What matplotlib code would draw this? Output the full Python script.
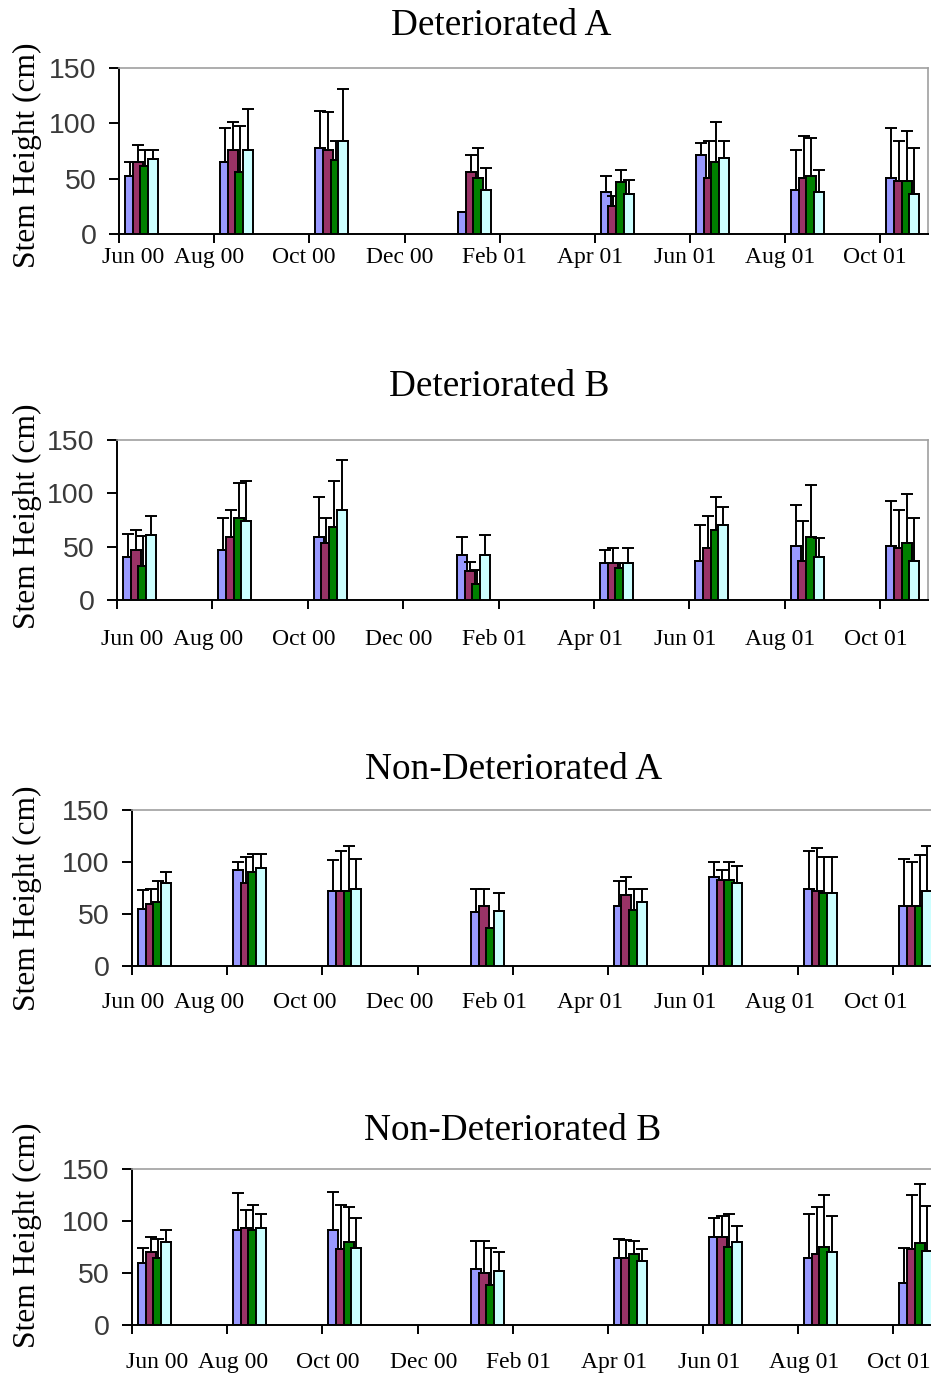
import matplotlib.pyplot as plt
import numpy as np

# axis ticks (months counted from June 2000)
tick_months = [0, 2, 4, 6, 8, 10, 12, 14, 16]
tick_labels = ['Jun 00', 'Aug 00', 'Oct 00', 'Dec 00', 'Feb 01',
               'Apr 01', 'Jun 01', 'Aug 01', 'Oct 01']

# sampling months (mid month)
sample_month = [0, 2, 4, 7, 10, 12, 14, 16]

titles = ['Deteriorated A', 'Deteriorated B',
          'Non-Deteriorated A', 'Non-Deteriorated B']

# mean stem height (cm) for the four series, and upper error (cm)
detA_mean = [[52, 65, 78, 20, 38, 71, 40, 51],
             [65, 76, 76, 56, 25, 51, 51, 48],
             [61, 56, 67, 51, 47, 65, 52, 48],
             [68, 76, 84, 40, 36, 69, 38, 36]]
detA_err = [[13, 31, 33, 0, 14, 11, 36, 45],
            [15, 25, 34, 15, 9, 33, 38, 36],
            [15, 42, 17, 27, 11, 36, 35, 45],
            [8, 37, 47, 20, 13, 15, 20, 42]]

detB_mean = [[40, 47, 59, 42, 35, 37, 51, 51],
             [47, 59, 53, 27, 35, 49, 37, 49],
             [32, 77, 68, 15, 30, 66, 59, 53],
             [61, 74, 84, 42, 35, 70, 40, 37]]
detB_err = [[22, 30, 38, 17, 12, 33, 38, 42],
            [19, 25, 24, 9, 14, 30, 37, 35],
            [28, 33, 44, 13, 5, 31, 49, 46],
            [18, 38, 47, 19, 14, 17, 18, 40]]

ndA_mean = [[55, 92, 72, 52, 58, 86, 74, 58],
            [60, 80, 72, 58, 68, 83, 72, 58],
            [62, 90, 72, 37, 54, 83, 70, 58],
            [80, 94, 74, 53, 62, 80, 70, 72]]
ndA_err = [[18, 8, 30, 22, 24, 14, 37, 45],
           [14, 25, 39, 16, 18, 9, 41, 42],
           [20, 18, 43, 0, 20, 17, 35, 49],
           [10, 14, 29, 17, 12, 16, 35, 43]]

ndB_mean = [[60, 91, 91, 54, 64, 85, 64, 40],
            [70, 93, 73, 50, 64, 85, 68, 73],
            [64, 91, 80, 38, 68, 75, 75, 79],
            [80, 93, 74, 52, 62, 80, 70, 71]]
ndB_err = [[14, 36, 37, 27, 19, 18, 43, 34],
           [15, 18, 42, 31, 18, 20, 45, 52],
           [19, 24, 33, 36, 13, 32, 50, 57],
           [11, 14, 29, 18, 11, 15, 35, 43]]

all_means = [detA_mean, detB_mean, ndA_mean, ndB_mean]
all_errs = [detA_err, detB_err, ndA_err, ndB_err]

colors = ['#9999FF', '#993366', '#008000', '#CCFFFF']

W, H = 931, 1376
fig = plt.figure(figsize=(W / 100, H / 100), dpi=100)

# panel layout in pixels: left, top, width, height
panels = [(119, 68, 809, 166), (117, 440, 811, 160),
          (132, 810, 809, 156), (132, 1169, 809, 156)]
label_shift = [-0.11, -0.09, -0.38, 0.12]  # month offset of the date labels
label_pad = [9.5, 21, 18.5, 19.5]
title_pos = [(501, 26), (499, 387), (514, 770), (513, 1131)]
ylab_y = [155, 516, 898, 1235]

serif = 'Liberation Serif'
sans = 'Liberation Sans'
lw = 1.4

for k in range(4):
    l, t, w, h = panels[k]
    ax = fig.add_axes([l / W, 1 - (t + h) / H, w / W, h / H])
    x = np.array(sample_month) + 0.47
    step = 0.16
    bw = 0.21
    for i in range(4):
        xi = x + (i - 1.5) * step
        m = np.array(all_means[k][i])
        e = np.array(all_errs[k][i])
        ax.bar(xi, m, width=bw, color=colors[i], edgecolor='black',
               linewidth=lw, zorder=2 + 2 * i)
        ax.errorbar(xi, m, yerr=[np.zeros_like(e), e], fmt='none',
                    ecolor='black', elinewidth=lw, capsize=4.5,
                    capthick=lw, zorder=3 + 2 * i)

    ax.set_xlim(0, 17)
    ax.set_ylim(0, 150)
    ax.set_yticks([0, 50, 100, 150])
    ax.set_yticklabels(['0', '50', '100', '150'], family=sans,
                       fontsize=20.5, color='#3a3a3a')
    ax.tick_params(axis='y', direction='out', length=7.2, width=lw,
                   pad=9)

    # tick marks at month starts, labels drawn slightly offset like the original
    ax.set_xticks(tick_months)
    ax.set_xticklabels([''] * len(tick_months))
    ax.tick_params(axis='x', which='major', direction='out', length=6.5,
                   width=lw)
    lab_x = np.array(tick_months, dtype=float) + label_shift[k]
    lab_x[0] += 0.40
    ax.set_xticks(lab_x, minor=True)
    ax.set_xticklabels(tick_labels, minor=True, family=serif, fontsize=17)
    ax.tick_params(axis='x', which='minor', length=0, pad=label_pad[k])

    for s in ['left', 'bottom']:
        ax.spines[s].set_linewidth(lw)
        ax.spines[s].set_color('black')
    for s in ['top', 'right']:
        ax.spines[s].set_linewidth(1.2)
        ax.spines[s].set_color('#a0a0a0')

    tx, ty = title_pos[k]
    fig.text(tx / W, 1 - ty / H, titles[k], family=serif, fontsize=26.8,
             ha='center', va='center')
    fig.text(27 / W, 1 - ylab_y[k] / H, 'Stem Height (cm)', family=serif,
             fontsize=22.7, rotation=90, ha='center', va='center')

fig.savefig('out.png', dpi=100)
